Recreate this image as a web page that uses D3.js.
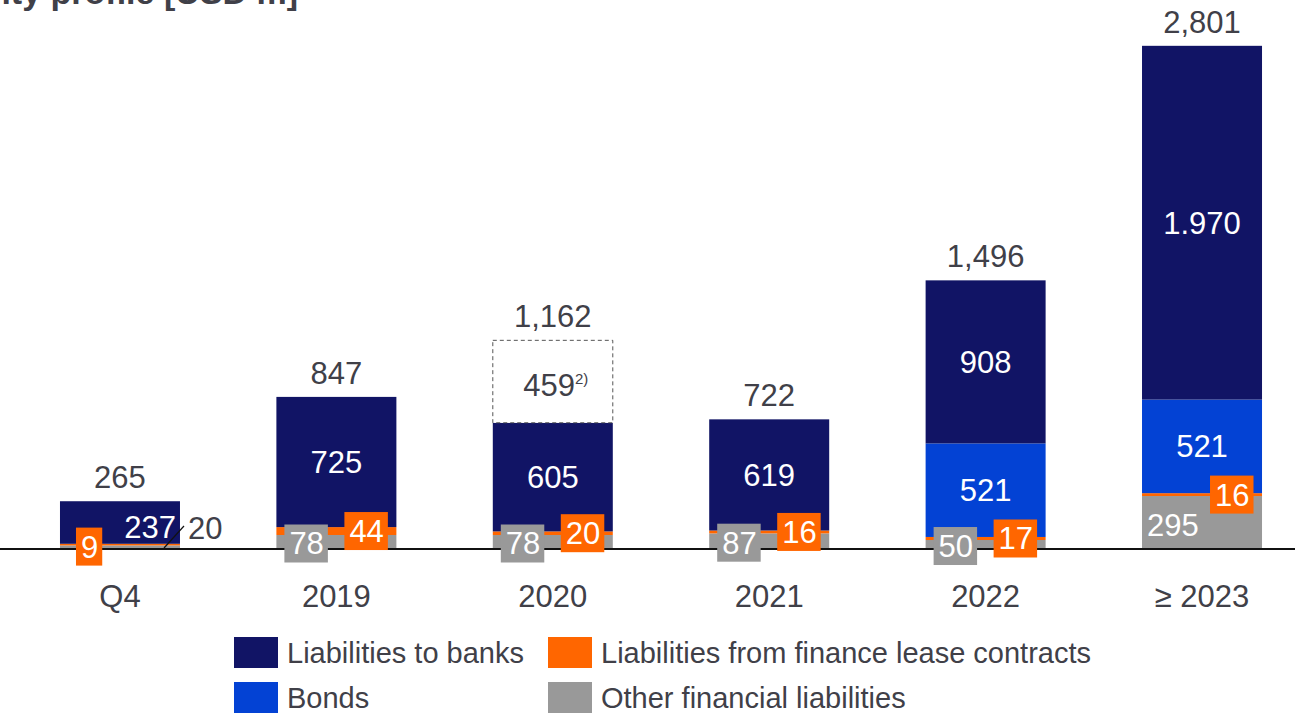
<!DOCTYPE html>
<html>
<head>
<meta charset="utf-8">
<script src="https://cdn.jsdelivr.net/npm/d3@7"></script>
<style>
  body { margin: 0; background: #fff; }
  svg { font-family: "Liberation Sans", Arial, sans-serif; display: block; }
</style>
</head>
<body>
<div id="chart"></div>
<script>
// Debt maturity profile data (USD m)
const categories = ["Q4", "2019", "2020", "2021", "2022", "\u2265 2023"];
const other = [20, 78, 78, 87, 50, 295];
const lease = [9, 44, 20, 16, 17, 16];
const bonds = [0, 0, 0, 0, 521, 521];
const banks = [237, 725, 605, 619, 908, 1970];
const extra = [0, 0, 459, 0, 0, 0];   // dashed, footnote 2)
const totals = ["265", "847", "1,162", "722", "1,496", "2,801"];
const bankLabels = ["237", "725", "605", "619", "908", "1.970"];

const seriesNames = ["Liabilities to banks", "Liabilities from finance lease contracts", "Bonds", "Other financial liabilities"];
const colors = { banks: "#111465", lease: "#ff6600", bonds: "#0342d4", other: "#999999" };
const textDark = "#404048";

const width = 1295, height = 713;
const baseY = 549;
const fs = 31;

const svg = d3.select('#chart').append('svg')
    .attr('width', width)
    .attr('height', height);

const x = d3.scaleBand()
    .domain(categories)
    .range([16.7, 1305.3])
    .paddingInner(0.4455)
    .paddingOuter(0.2);

const y = d3.scaleLinear()
    .domain([0, 2801])
    .range([baseY, 46]);

const rows = categories.map((c, i) => ({
    cat: c, i,
    other: other[i], lease: lease[i], bonds: bonds[i], banks: banks[i], extra: extra[i]
}));

const stack = d3.stack().keys(["other", "lease", "bonds", "banks", "extra"])(rows);

// title (cut off at top of the slide)
svg.append('text')
    .attr('x', 298).attr('y', 4)
    .attr('text-anchor', 'end')
    .attr('font-size', 34).attr('font-weight', 'bold')
    .attr('fill', textDark)
    .text('Debt maturity profile [USD m]');

// bars
const layers = svg.append('g').selectAll('g')
    .data(stack)
    .enter().append('g');

layers.each(function(layer) {
    const key = layer.key;
    d3.select(this).selectAll('rect')
        .data(layer.filter(d => d[1] > d[0]))
        .enter().append('rect')
        .attr('x', d => x(d.data.cat))
        .attr('y', d => y(d[1]))
        .attr('width', x.bandwidth())
        .attr('height', d => y(d[0]) - y(d[1]))
        .attr('fill', key === 'extra' ? '#fff' : colors[key])
        .attr('stroke', key === 'extra' ? '#555' : 'none')
        .attr('stroke-dasharray', key === 'extra' ? '4,3' : null)
        .attr('stroke-width', 1);
});

// zero line
svg.append('line')
    .attr('x1', 0).attr('x2', width)
    .attr('y1', baseY).attr('y2', baseY)
    .attr('stroke', '#111').attr('stroke-width', 2);

const labels = svg.append('g').attr('font-size', fs);

const mid = (layerIdx, i) => (y(stack[layerIdx][i][0]) + y(stack[layerIdx][i][1])) / 2;

// totals above bars
labels.selectAll('.total')
    .data(rows)
    .enter().append('text')
    .attr('class', 'total')
    .attr('x', d => x(d.cat) + x.bandwidth() / 2)
    .attr('y', d => y(stack[4][d.i][1]) - 13)
    .attr('text-anchor', 'middle')
    .attr('fill', textDark)
    .text(d => totals[d.i]);

// bank labels
labels.selectAll('.bank')
    .data(rows)
    .enter().append('text')
    .attr('x', d => d.i === 0 ? x(d.cat) + 116 : x(d.cat) + x.bandwidth() / 2)
    .attr('y', d => d.i === 0 ? 538 : mid(3, d.i) + 11)
    .attr('text-anchor', d => d.i === 0 ? 'end' : 'middle')
    .attr('fill', '#fff')
    .text(d => bankLabels[d.i]);

// bond labels
labels.selectAll('.bond')
    .data(rows.filter(d => d.bonds > 0))
    .enter().append('text')
    .attr('x', d => x(d.cat) + x.bandwidth() / 2)
    .attr('y', d => mid(2, d.i) + 11)
    .attr('text-anchor', 'middle')
    .attr('fill', '#fff')
    .text(d => d.bonds);

// dashed extra label with footnote
rows.filter(d => d.extra > 0).forEach(d => {
    const t = labels.append('text')
        .attr('x', x(d.cat) + x.bandwidth() / 2 + 3)
        .attr('y', mid(4, d.i) + 14)
        .attr('text-anchor', 'middle')
        .attr('fill', textDark);
    t.append('tspan').text(d.extra);
    t.append('tspan').attr('font-size', 15).attr('dy', -12).text('2)');
});

// boxed small labels
function boxLabel(g, cx, cy, txt, fill, boxed) {
    const t = g.append('text')
        .attr('x', cx).attr('y', cy + 11)
        .attr('fill', '#fff')
        .text(txt);
    const w = t.node().getComputedTextLength();
    if (boxed) {
        g.insert('rect', 'text')
            .attr('x', cx - 5).attr('y', cy - 19)
            .attr('width', w + 9).attr('height', 38)
            .attr('fill', fill);
    }
}

rows.forEach(d => {
    const g = svg.append('g').attr('font-size', fs);
    const bx = x(d.cat);
    // lease (orange)
    if (d.i === 0) {
        boxLabel(g, bx + 21, mid(1, d.i) + 2, d.lease, colors.lease, true);
    } else {
        boxLabel(g, bx + 73, mid(1, d.i), d.lease, colors.lease, true);
    }
    // other (gray)
    if (d.i === 0) {
        g.append('line')
            .attr('x1', bx + 104).attr('y1', baseY - 1)
            .attr('x2', bx + 124).attr('y2', 526)
            .attr('stroke', '#111').attr('stroke-width', 1.2);
        g.append('text')
            .attr('x', bx + 128).attr('y', 539)
            .attr('fill', textDark)
            .text(d.other);
    } else if (d.i === 5) {
        g.append('text')
            .attr('x', bx + 5).attr('y', mid(0, d.i) + 13)
            .attr('fill', '#fff')
            .text(d.other);
    } else {
        boxLabel(g, bx + 13, mid(0, d.i) + 1.5, d.other, colors.other, true);
    }
});

// category axis labels
svg.append('g').selectAll('text')
    .data(categories)
    .enter().append('text')
    .attr('x', d => x(d) + x.bandwidth() / 2)
    .attr('y', 607)
    .attr('text-anchor', 'middle')
    .attr('font-size', fs)
    .attr('fill', textDark)
    .text(d => d);

// legend
const legendItems = [
    { name: seriesNames[0], color: colors.banks, lx: 234, ly: 637 },
    { name: seriesNames[1], color: colors.lease, lx: 548, ly: 637 },
    { name: seriesNames[2], color: colors.bonds, lx: 234, ly: 682 },
    { name: seriesNames[3], color: colors.other, lx: 548, ly: 682 }
];
const legend = svg.append('g').selectAll('g')
    .data(legendItems)
    .enter().append('g')
    .attr('transform', d => `translate(${d.lx},${d.ly})`);
legend.append('rect')
    .attr('width', 44).attr('height', 31)
    .attr('fill', d => d.color);
legend.append('text')
    .attr('x', 53).attr('y', 26)
    .attr('font-size', 29)
    .attr('fill', textDark)
    .text(d => d.name);
</script>
</body>
</html>
